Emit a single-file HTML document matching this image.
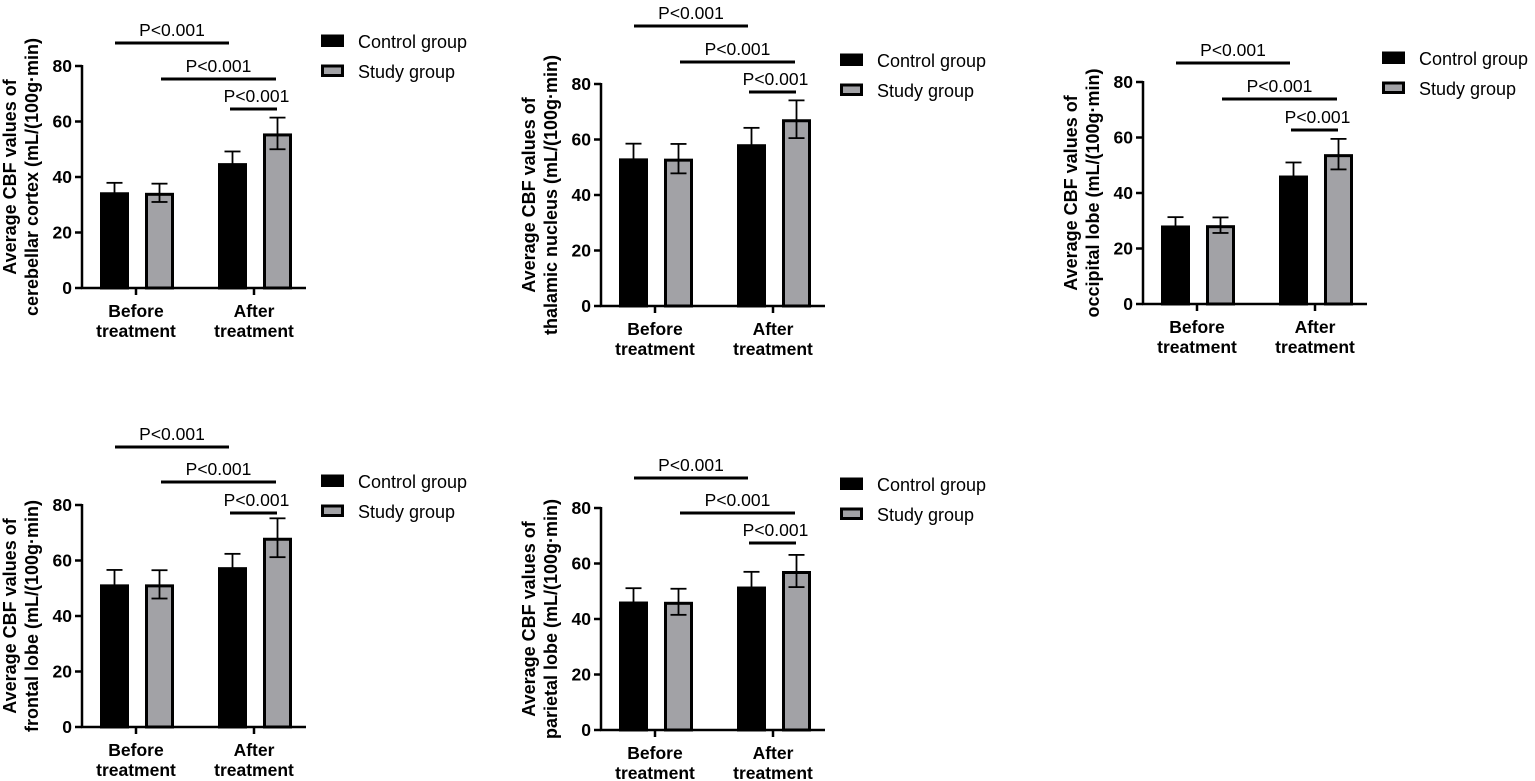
<!DOCTYPE html>
<html><head><meta charset="utf-8">
<style>
html,body{margin:0;padding:0;background:#fff;}
svg{display:block;font-family:"Liberation Sans",Arial,sans-serif;}
</style></head>
<body>
<svg id="chart" width="1535" height="781" viewBox="0 0 1535 781" xmlns="http://www.w3.org/2000/svg"></svg>
<script>
// ---- data ----
const categories = ["Before|treatment", "After|treatment"];
const seriesNames = ["Control group", "Study group"];
const yTicks = [0, 20, 40, 60, 80];
const panelTitles = [
  ["Average CBF values of", "cerebellar cortex (mL/(100g·min)"],
  ["Average CBF values of", "thalamic nucleus (mL/(100g·min)"],
  ["Average CBF values of", "occipital lobe (mL/(100g·min)"],
  ["Average CBF values of", "frontal lobe (mL/(100g·min)"],
  ["Average CBF values of", "parietal lobe (mL/(100g·min)"]
];
// control [before, after], study [before, after]
const controlMeans = [[34.5, 45.0], [53.2, 58.3], [28.3, 46.3], [51.4, 57.6], [46.3, 51.7]];
const controlSD    = [[3.4, 4.2],  [5.3, 5.9],  [3.0, 4.7],  [5.2, 4.8],  [4.8, 5.3]];
const studyMeans   = [[34.3, 55.7], [53.1, 67.3], [28.4, 54.0], [51.4, 68.2], [46.2, 57.3]];
const studySD      = [[3.3, 5.7],  [5.3, 6.8],  [2.8, 5.5],  [5.1, 7.0],  [4.7, 5.8]];
const pLabels = ["P<0.001", "P<0.001", "P<0.001"];

// ---- layout ----
const layout = [
  {ax: 82,   y0: 288, y80: 66,  sig: [43, 79, 109],  leg: 41},
  {ax: 601,  y0: 306, y80: 84,  sig: [26, 62, 92],   leg: 60},
  {ax: 1143, y0: 304, y80: 82,  sig: [63, 99, 130],  leg: 58},
  {ax: 82,   y0: 727, y80: 505, sig: [447, 482, 513], leg: 481},
  {ax: 601,  y0: 730, y80: 508, sig: [478, 513, 543], leg: 484}
];
const NS = "http://www.w3.org/2000/svg";
const svg = document.getElementById("chart");
function mk(tag, attrs, parent, text) {
  const e = document.createElementNS(NS, tag);
  for (const k in attrs) e.setAttribute(k, attrs[k]);
  if (text !== undefined) e.textContent = text;
  parent.appendChild(e);
  return e;
}
layout.forEach((L, p) => {
  const g = mk("g", {}, svg);
  
  
  const y = v => L.y0 - (v / 80) * (L.y0 - L.y80);
  const ax = L.ax;
  const yAxis = mk("line", {x1: ax, y1: L.y80 - 1, x2: ax, y2: L.y0 + 1, stroke: "#000", "stroke-width": 2.5}, g);
  
  
  yTicks.forEach(t => {
    mk("line", {x1: ax - 7, y1: y(t), x2: ax, y2: y(t), stroke: "#000", "stroke-width": 2.5}, g);
    const tl = mk("text", {x: ax - 10, y: y(t) + 6, "text-anchor": "end", "font-size": 17.5, "font-weight": "bold"}, g, t);
    
    
  });
  const xAxis = mk("line", {x1: ax - 1, y1: L.y0, x2: ax + 224, y2: L.y0, stroke: "#000", "stroke-width": 2.5}, g);
  
  
  const groupCenters = [ax + 54, ax + 172];
  categories.forEach((c, i) => {
    const cx = groupCenters[i];
    mk("line", {x1: cx, y1: L.y0, x2: cx, y2: L.y0 + 7, stroke: "#000", "stroke-width": 2.5}, g);
    const parts = c.split("|");
    const t = mk("text", {x: cx, y: L.y0 + 29, "text-anchor": "middle", "font-size": 17.5, "font-weight": "bold"}, g);
    
    
    mk("tspan", {x: cx, dy: 0}, t, parts[0]);
    mk("tspan", {x: cx, dy: 20}, t, parts[1]);
    const vals = [[controlMeans[p][i], controlSD[p][i]], [studyMeans[p][i], studySD[p][i]]];
    vals.forEach((vs, s) => {
      const bx = cx - 36 + s * 45;
      const bw = 29;
      const m = vs[0], sd = vs[1];
      const bar = mk("rect", {x: bx + 1.5, y: y(m) + 1.5, width: bw - 3, height: L.y0 - y(m) - 1.5,
        fill: s === 0 ? "#000" : "#a2a2a6", stroke: "#000", "stroke-width": 3}, g);
      
      
      const ex = bx + bw / 2;
      const eb = mk("line", {x1: ex, y1: y(m + sd), x2: ex, y2: y(m - sd), stroke: "#000", "stroke-width": 1.8}, g);
      
      
      mk("line", {x1: ex - 8, y1: y(m + sd), x2: ex + 8, y2: y(m + sd), stroke: "#000", "stroke-width": 1.8}, g);
      mk("line", {x1: ex - 8, y1: y(m - sd), x2: ex + 8, y2: y(m - sd), stroke: "#000", "stroke-width": 1.8}, g);
    });
  });
  const spans = [[ax + 33, ax + 147], [ax + 79, ax + 194], [ax + 148, ax + 195]];
  spans.forEach((sp, k) => {
    const ln = mk("line", {x1: sp[0], y1: L.sig[k], x2: sp[1], y2: L.sig[k], stroke: "#000", "stroke-width": 3}, g);
    
    
    const txt = mk("text", {x: (sp[0] + sp[1]) / 2 + (k === 2 ? 3 : 0), y: L.sig[k] - 7, "text-anchor": "middle", "font-size": 17.5}, g, pLabels[k]);
    
    
  });
  const midY = (L.y0 + L.y80) / 2;
  panelTitles[p].forEach((line, k) => {
    const tx = ax - 66 + k * 22;
    const tt = mk("text", {x: tx, y: midY, "text-anchor": "middle", "font-size": 18, "font-weight": "bold",
      transform: "rotate(-90 " + tx + " " + midY + ")"}, g, line);
    
    
  });
  const lx = ax + 239;
  seriesNames.forEach((nm, s) => {
    const ly = L.leg + s * 30;
    const lr = mk("rect", {x: lx + 1.5, y: ly - 5, width: 20, height: 9.5,
      fill: s === 0 ? "#000" : "#a2a2a6", stroke: "#000", "stroke-width": 3}, g);
    
    
    const lt = mk("text", {x: lx + 37, y: ly + 7, "font-size": 18}, g, nm);
    
    
  });
});
</script>
</body></html>
